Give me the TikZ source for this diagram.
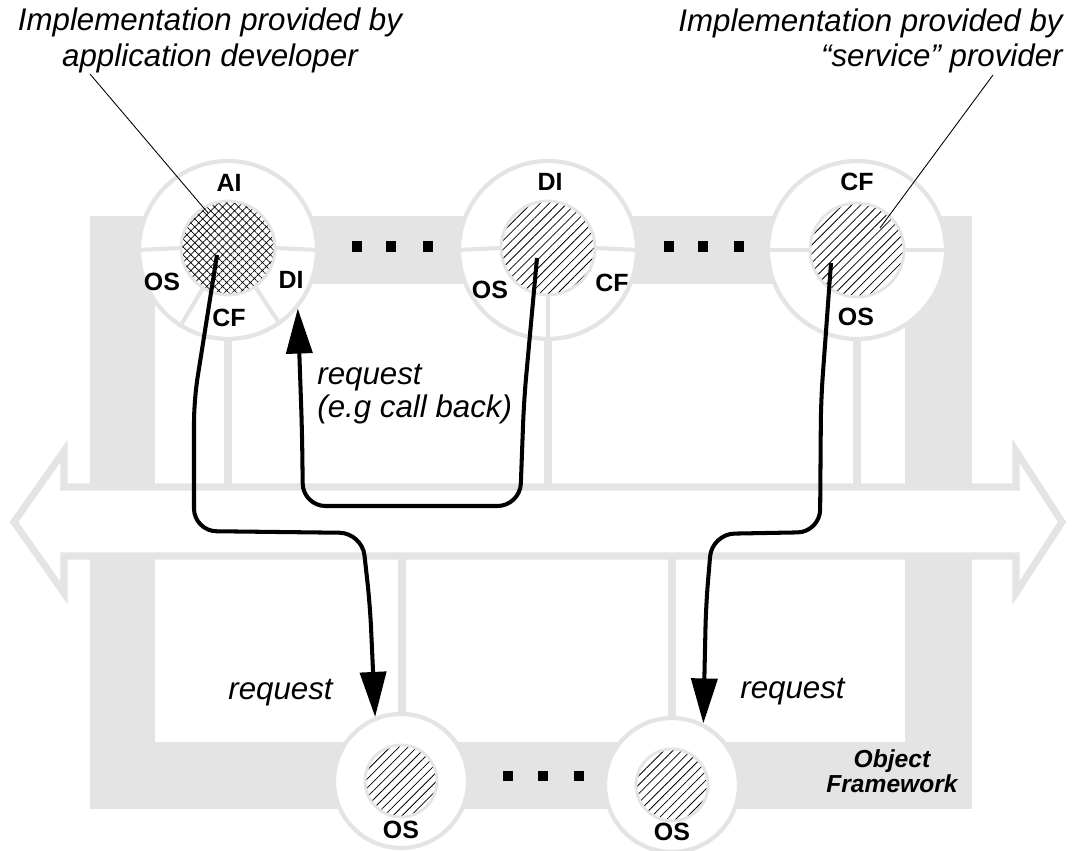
\documentclass[tikz,border=0pt]{standalone}
\usepackage{fontspec}
\setmainfont{Liberation Sans}
\usetikzlibrary{arrows.meta,patterns.meta}

\definecolor{fwgray}{RGB}{228,228,228}

\tikzset{
	ring/.style={circle, draw=fwgray, line width=2.4pt, fill=white, inner sep=0pt, minimum size=3.56cm},
	smallring/.style={ring, minimum size=2.68cm},
	core/.style={circle, draw=fwgray, line width=1.6pt, inner sep=0pt, minimum size=1.88cm,
		pattern={Lines[angle=45,distance=3.6pt,line width=0.45pt]}},
	crosscore/.style={core, pattern={Hatch[angle=45,distance=3.2pt,line width=0.4pt]}},
	smallcore/.style={core, minimum size=1.44cm},
	lab/.style={font=\bfseries\fontsize{14.2}{16}\selectfont, inner sep=0pt},
	note/.style={font=\itshape\fontsize{17.8}{20.4}\selectfont, inner sep=0pt},
	divider/.style={draw=fwgray, line width=2.3pt},
	stem/.style={draw=fwgray, line width=4pt},
	req/.style={line width=2.3pt, rounded corners=0.45cm, -{Triangle[length=0.9cm,width=0.52cm]}},
	leader/.style={line width=0.5pt}
}

\begin{document}
\begin{tikzpicture}[x=0.02cm, y=-0.02cm]
	\useasboundingbox (0,0) rectangle (1080,851);
	% object framework
	\fill[fwgray] (90,216) rectangle (972,809);
	\fill[white] (155,284) rectangle (905,742);
	\draw[stem] (228,250) -- (228,520);
	\draw[stem] (548,250) -- (548,520);
	\draw[stem] (857,250) -- (857,520);
	\draw[stem] (402,520) -- (402,781);
	\draw[stem] (672,520) -- (672,785);
	% bus
	\draw[fwgray, line width=4pt, fill=white]
		(14,522) -- (64,451) -- (64,487) -- (1016,487) -- (1016,451) -- (1062,522)
		-- (1016,593) -- (1016,556) -- (64,556) -- (64,593) -- cycle;

	% objects
	\node[ring] (ai) at (228,250) {};
	\node[crosscore] (aicore) at (228,248) {};
	\node[ring] (di) at (548,250) {};
	\node[core] (dicore) at (548,248) {};
	\node[ring] (cf) at (857,250) {};
	\node[core] (cfcore) at (857,250) {};
	\node[smallring] (osa) at (401,781) {};
	\node[smallcore] (osacore) at (401,781) {};
	\node[smallring] (osb) at (672,785) {};
	\node[smallcore] (osbcore) at (672,785) {};

	\draw[divider] (ai.west) -- (aicore.west) (aicore.east) -- (ai.east);
	\draw[divider] (aicore.238) -- (ai.238) (aicore.305) -- (ai.305);
	\draw[divider] (di.west) -- (dicore.west) (dicore.east) -- (di.east) (dicore.south) -- (di.south);
	\draw[divider] (cf.west) -- (cfcore.west) (cfcore.east) -- (cf.east);

	\node[lab] (ailab) at (229,183) {AI};
	\node[lab] (aios) at (162,282) {OS};
	\node[lab] (aidi) at (291,280) {DI};
	\node[lab] (aicf) at (229,318) {CF};
	\node[lab] (dilab) at (550,182) {DI};
	\node[lab] (dios) at (490,290) {OS};
	\node[lab] (dicf) at (612,283) {CF};
	\node[lab] (cflab) at (857,182) {CF};
	\node[lab] (cfos) at (856,317) {OS};
	\node[lab] (osalab) at (401,830) {OS};
	\node[lab] (osblab) at (672,832) {OS};

	\foreach \x in {357,391,428,669,703,739}
		\fill (\x-5,241) rectangle (\x+5,252);
	\foreach \x in {508,543,579}
		\fill (\x-5,771) rectangle (\x+5,781);

	\node[font=\bfseries\itshape\fontsize{14}{13}\selectfont, align=center, inner sep=0pt] (fwlab) at (892,771) {Object\\Framework};

	% notes
	\node[note, align=center] (devnote) at (210,40) {Implementation provided by\\application developer};
	\node[note, align=right, anchor=north east] (srvnote) at (1063,8) {Implementation provided by\\“service” provider};
	\coordinate (devfoot) at (90,74);
	\coordinate (aitouch) at (208,213);
	\coordinate (srvfoot) at (993,75);
	\coordinate (cftouch) at (880,228);
	\draw[leader] (devfoot) -- (aitouch);
	\draw[leader] (srvfoot) -- (cftouch);

	% requests
	\coordinate (aistart) at (217,255);
	\coordinate (distart) at (537,258);
	\coordinate (cfstart) at (831,263);
	\draw[req] (aistart) -- (194,400) -- (194,531) -- (362,533) -- (370,605) -- (osa.112);
	\draw[req] (distart) -- (524,400) -- (520,506) -- (303,506) -- (302,430) -- (ai.320);
	\draw[req] (cfstart) -- (821,400) -- (820,532) -- (712,534) -- (706,605) -- (osb.63);

	\node[note, anchor=west] (reqa) at (228,693) {request};
	\node[note, anchor=west] (reqb) at (740,692) {request};
	\node[note, align=left, anchor=north west, font=\itshape\fontsize{17.8}{18.7}\selectfont] (reqcb) at (317,364) {request\\(e.g call back)};
\end{tikzpicture}
\end{document}
